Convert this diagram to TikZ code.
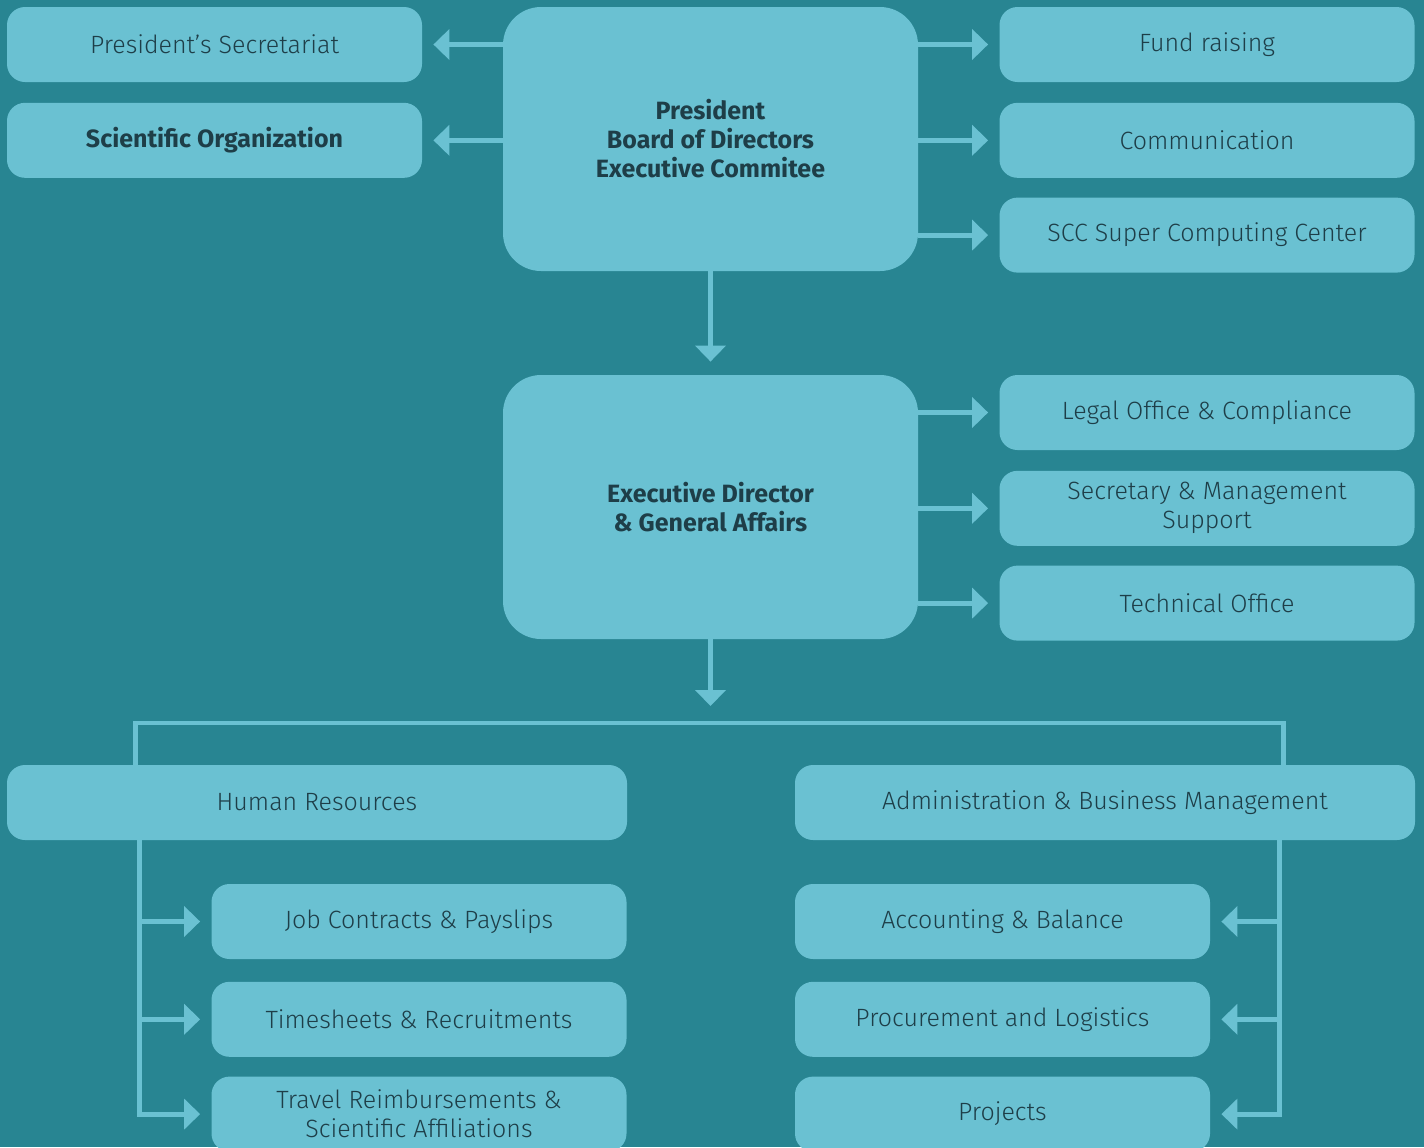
\documentclass[tikz,border=0pt]{standalone}
\usepackage{fontspec}
\setmainfont{Fira Sans}[UprightFont={* Light},BoldFont={* Bold}]
\usepackage{tikz}
\usetikzlibrary{arrows.meta,positioning}
\definecolor{sea}{RGB}{40,133,146}
\definecolor{tile}{RGB}{106,193,210}
\definecolor{ink}{RGB}{30,62,72}
\tikzset{
  unit/.style={rectangle,rounded corners=9pt,fill=tile,text=ink,inner sep=0pt,
               minimum width=207.5pt,minimum height=37.5pt,align=center,
               font=\fontsize{12.5}{14.5}\selectfont},
  head/.style={unit,rounded corners=19pt,minimum height=132pt,
               font=\fontsize{12.5}{14.5}\selectfont\bfseries},
  wide/.style={unit,minimum width=310pt},
  link/.style={draw=tile,line width=2.4pt},
  arr/.style={link,-{Triangle[length=8pt,width=15pt]}},
}

\begin{document}
\begin{tikzpicture}[x=0.5pt,y=-0.5pt]
  \fill[sea] (0,0) rectangle (1424,1147);
  \useasboundingbox (0,0) rectangle (1424,1147);

  % top level
  \node[head] (pres) at (710.5,139) {President\\Board of Directors\\Executive Commitee};
  \node[unit] (sec) at (214.5,44.5) {President’s Secretariat};
  \node[unit,below=10pt of sec,font=\fontsize{12.5}{14.5}\selectfont\bfseries] (sci) {Scientific Organization};
  \node[unit] (fund) at (1207,44.5) {Fund raising};
  \node[unit,below=10pt of fund] (comm) {Communication};
  \node[unit,below=9.5pt of comm] (scc) {SCC Super Computing Center};

  % executive level
  \node[head] (exec) at (710.5,507) {Executive Director\\\& General Affairs};
  \node[unit] (legal) at (1207,412.5) {Legal Office \& Compliance};
  \node[unit,below=10pt of legal] (secm) {Secretary \& Management\\Support};
  \node[unit,below=9.5pt of secm] (tech) {Technical Office};
  \coordinate (split) at (710.5,723);

  % departments
  \node[wide] (hr) at (317,802.5) {Human Resources};
  \node[wide] (admin) at (1105,802.5) {Administration \& Business Management};
  \node[unit] (job) at (419,921.5) {Job Contracts \& Payslips};
  \node[unit,below=11pt of job] (times) {Timesheets \& Recruitments};
  \node[unit,below=9.5pt of times] (travel) {Travel Reimbursements \&\\Scientific Affiliations};
  \node[unit] (acc) at (1002.5,921.5) {Accounting \& Balance};
  \node[unit,below=11pt of acc] (proc) {Procurement and Logistics};
  \node[unit,below=9.5pt of proc] (proj) {Projects};
  \coordinate (hrbus) at ([xshift=66.5pt]hr.south west);
  \coordinate (adbus) at ([xshift=-68pt]admin.south east);

  % connectors
  \draw[arr] (pres.west |- sec.east) -- ([xshift=5.5pt]sec.east);
  \draw[arr] (pres.west |- sci.east) -- ([xshift=5.5pt]sci.east);
  \foreach \t in {fund,comm,scc}
    \draw[arr] (pres.east |- \t.west) -- ([xshift=-5.5pt]\t.west);
  \draw[arr] (pres.south) -- ([yshift=6.5pt]exec.north);
  \foreach \t in {legal,secm,tech}
    \draw[arr] (exec.east |- \t.west) -- ([xshift=-5.5pt]\t.west);
  \draw[arr] (exec.south) -- ([yshift=8.5pt]split);
  \draw[link] ([xshift=64.5pt]hr.north west) |- (split) -| ([xshift=-66pt]admin.north east);

  \draw[arr] (hrbus) |- ([xshift=-5.5pt]travel.west);
  \foreach \t in {job,times}
    \draw[arr] (hrbus |- \t.west) -- ([xshift=-5.5pt]\t.west);
  \draw[arr] (adbus) |- ([xshift=5.5pt]proj.east);
  \foreach \t in {acc,proc}
    \draw[arr] (adbus |- \t.east) -- ([xshift=5.5pt]\t.east);
\end{tikzpicture}
\end{document}
